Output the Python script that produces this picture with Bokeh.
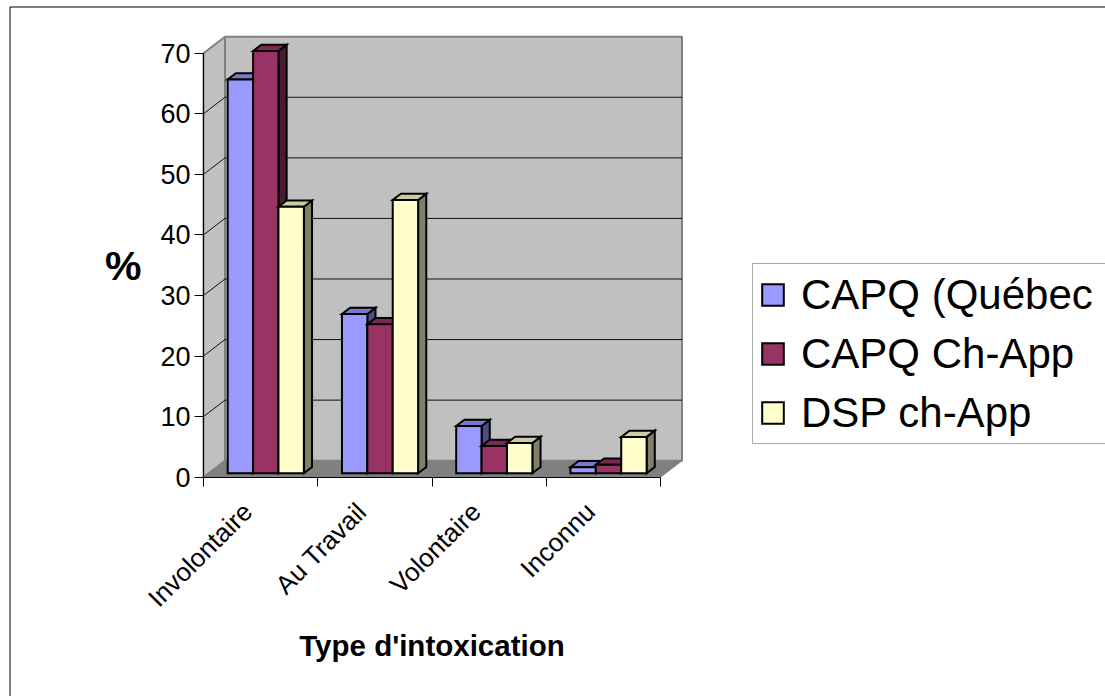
from math import pi

from bokeh.embed import file_html
from bokeh.models import (BoxAnnotation, FixedTicker, Legend, LegendItem,
                          LinearAxis, Range1d)
from bokeh.plotting import figure
from bokeh.resources import INLINE

# ---- data -----------------------------------------------------------------
categories = ["Involontaire", "Au Travail", "Volontaire", "Inconnu"]
series_names = ["CAPQ (Québec", "CAPQ Ch-App", "DSP ch-App"]
capq_quebec = [65.0, 26.3, 7.8, 1.0]
capq_ch_app = [69.7, 24.6, 4.5, 1.4]
dsp_ch_app = [44.0, 45.1, 5.0, 6.0]
y_ticks = [0, 10, 20, 30, 40, 50, 60, 70]
x_title = "Type d'intoxication"
y_title = "%"

series_values = [capq_quebec, capq_ch_app, dsp_ch_app]

# ---- styling --------------------------------------------------------------
front_colors = ["#9999FF", "#993366", "#FFFFCC"]
top_colors = ["#7A7ACC", "#7A2952", "#CCCCA3"]
side_colors = ["#4D4D80", "#4D1A33", "#808066"]
FONT = "Liberation Sans"

W, H = 1105, 696
X0_PX = 203.0      # screen x of the front-left corner of the floor
Y0_PX = 476.7      # screen y of the value 0 on the front plane
CAT_PX = 114.25    # screen width of one category
UNIT_PX = 6.057    # screen pixels per percent
DEPTH_PX = (21.5, 16.5)   # oblique offset of the back wall
LABEL_SHIFT_PX = 13       # category labels sit a little left of the centre

n_cat = len(categories)
y_max = y_ticks[-1]
ddx = DEPTH_PX[0] / CAT_PX
ddy = DEPTH_PX[1] / UNIT_PX

p = figure(
    width=W, height=H,
    x_range=Range1d(-X0_PX / CAT_PX, (W - X0_PX) / CAT_PX),
    y_range=Range1d(-(H - Y0_PX) / UNIT_PX, Y0_PX / UNIT_PX),
    x_axis_type=None, y_axis_type=None,
    toolbar_location=None, output_backend="svg",
    min_border=0,
)
p.outline_line_color = None
p.background_fill_color = "white"
p.border_fill_color = "white"

# ---- walls and floor ------------------------------------------------------
wall_fill, wall_edge = "#C0C0C0", "#808080"
p.patch([0, 0, ddx, ddx], [0, y_max, y_max + ddy, ddy],
        fill_color=wall_fill, line_color=wall_edge, line_width=2)
p.patch([ddx, ddx, n_cat + ddx, n_cat + ddx],
        [ddy, y_max + ddy, y_max + ddy, ddy],
        fill_color=wall_fill, line_color=wall_edge, line_width=2)
p.patch([0, n_cat, n_cat + ddx, ddx], [0, 0, ddy, ddy],
        fill_color="#808080", line_color="#808080", line_width=1)

# gridlines on the back wall and their diagonals on the side wall
grid_levels = y_ticks[1:-1]
p.segment(x0=[ddx] * len(grid_levels), y0=[v + ddy for v in grid_levels],
          x1=[n_cat + ddx] * len(grid_levels), y1=[v + ddy for v in grid_levels],
          line_color="#111111", line_width=1)
p.segment(x0=[0] * len(grid_levels), y0=grid_levels,
          x1=[ddx] * len(grid_levels), y1=[v + ddy for v in grid_levels],
          line_color="#111111", line_width=1)

# ---- 3-D columns ----------------------------------------------------------
bar_w = 1 / 4.5
gap = (1 - len(series_values) * bar_w) / 2
d_front, d_back = 0.24, 0.62   # bar depth as a fraction of the floor depth

legend_items = []
for s, vals in enumerate(series_values):
    lefts = [c + gap + s * bar_w for c in range(n_cat)]
    rights = [l + bar_w for l in lefts]
    fx, fy = d_front * ddx, d_front * ddy
    bx, by = d_back * ddx, d_back * ddy

    sides_x = [[r + fx, r + bx, r + bx, r + fx] for r in rights]
    sides_y = [[fy, by, v + by, v + fy] for v in vals]
    p.patches(sides_x, sides_y, fill_color=side_colors[s],
              line_color="black", line_width=2, line_join="miter")

    tops_x = [[l + fx, r + fx, r + bx, l + bx] for l, r in zip(lefts, rights)]
    tops_y = [[v + fy, v + fy, v + by, v + by] for v in vals]
    p.patches(tops_x, tops_y, fill_color=top_colors[s],
              line_color="black", line_width=2, line_join="miter")

    front = p.quad(left=[l + fx for l in lefts], right=[r + fx for r in rights],
                   bottom=[fy] * n_cat, top=[v + fy for v in vals],
                   fill_color=front_colors[s], line_color="black",
                   line_width=2, line_join="miter")
    legend_items.append(LegendItem(label=series_names[s], renderers=[front]))

# ---- axes -----------------------------------------------------------------
yaxis = LinearAxis(
    fixed_location=0, bounds=(0, y_max),
    ticker=FixedTicker(ticks=y_ticks, minor_ticks=[]),
    axis_line_color="black", axis_line_width=1,
    major_tick_line_color="black", major_tick_out=9, major_tick_in=0,
    major_label_standoff=4,
    major_label_text_font=FONT, major_label_text_font_size="27px",
    major_label_text_color="black",
    axis_label=y_title, axis_label_orientation="horizontal",
    axis_label_standoff=16,
    axis_label_text_font=FONT, axis_label_text_font_size="41px",
    axis_label_text_font_style="bold", axis_label_text_color="black",
)
p.add_layout(yaxis, "left")

label_pos = [c + 0.5 - LABEL_SHIFT_PX / CAT_PX for c in range(n_cat)]
xaxis = LinearAxis(
    fixed_location=0, bounds=(0, n_cat),
    ticker=FixedTicker(ticks=label_pos, minor_ticks=list(range(n_cat + 1))),
    major_label_overrides={c: name for c, name in zip(label_pos, categories)},
    axis_line_color="black", axis_line_width=1,
    major_tick_line_color=None, major_tick_out=0, major_tick_in=0,
    minor_tick_line_color="black", minor_tick_out=9, minor_tick_in=0,
    major_label_orientation=pi / 4, major_label_standoff=21,
    major_label_text_font=FONT, major_label_text_font_size="26px",
    major_label_text_color="black",
    axis_label=x_title, axis_label_standoff=2,
    axis_label_text_font=FONT, axis_label_text_font_size="29.5px",
    axis_label_text_font_style="bold", axis_label_text_color="black",
)
p.add_layout(xaxis, "below")

# ---- legend ---------------------------------------------------------------
legend = Legend(
    items=legend_items, location=(752, H - 444), margin=0,
    border_line_color="#555555", border_line_width=1,
    background_fill_color="white", background_fill_alpha=1,
    label_text_font=FONT, label_text_font_size="42px", label_text_color="black",
    glyph_width=27, glyph_height=27, label_standoff=15,
    padding=6, spacing=10, label_height=49, label_width=340,
)
p.add_layout(legend, "center")

# ---- chart border ---------------------------------------------------------
p.add_layout(BoxAnnotation(
    left=(9.5 - X0_PX) / CAT_PX, right=(W + 20 - X0_PX) / CAT_PX,
    top=(Y0_PX - 6.5) / UNIT_PX, bottom=-(H + 20 - Y0_PX) / UNIT_PX,
    fill_alpha=0, line_color="black", line_alpha=1, line_width=1,
))

open("out.html", "w").write(file_html(p, INLINE))
